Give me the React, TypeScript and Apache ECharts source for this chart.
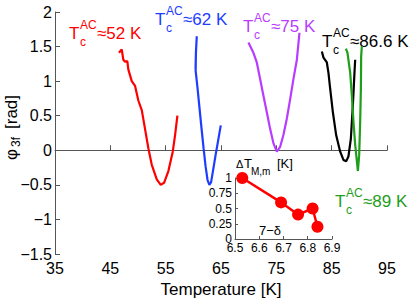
import React, { useEffect, useRef } from "react";
import * as echarts from "echarts";

// Main curves: temperature [K] and phase phi_3f [rad]
const redT = [46.57, 47.06, 47.35, 47.66, 48.07, 48.25, 48.87, 49.47, 50.06, 50.68, 51.27, 51.87, 52.49, 53.39, 54.11, 54.71, 55.49, 56.28, 56.7, 57.12];
const redPhi = [1.41, 1.46, 1.31, 1.28, 1.29, 1.17, 1.0, 0.93, 0.72, 0.58, 0.31, 0.03, -0.21, -0.42, -0.5, -0.47, -0.3, -0.02, 0.22, 0.5];

const blueT = [60.62, 60.48, 60.4, 60.47, 60.42, 60.77, 61.13, 61.49, 61.85, 62.21, 62.57, 62.9, 63.21, 63.57, 64.02, 64.48, 64.96];
const bluePhi = [1.65, 1.43, 1.18, 1.42, 1.15, 0.89, 0.6, 0.31, 0.03, -0.23, -0.43, -0.5, -0.46, -0.29, -0.07, 0.14, 0.36];

const purpleT = [69.96, 70.86, 71.47, 72.07, 72.67, 73.28, 73.88, 74.48, 75.09, 75.69, 76.28, 76.9, 77.5, 78.09, 78.71, 79.18];
const purplePhi = [1.56, 1.41, 1.27, 1.03, 0.79, 0.55, 0.31, 0.1, -0.02, 0.05, 0.22, 0.46, 0.74, 1.03, 1.31, 1.7];

const blackT = [83.23, 83.52, 84.13, 84.42, 84.73, 85.22, 85.81, 86.54, 87.13, 87.62, 88.03, 88.47, 88.83, 89.12, 89.25];
const blackPhi = [1.43, 1.34, 1.27, 1.12, 0.89, 0.55, 0.22, -0.02, -0.14, -0.16, -0.09, 0.17, 0.65, 1.12, 1.31];

const greenT = [87.57, 87.86, 88.35, 88.65, 88.94, 89.25, 89.56, 89.74, 89.97, 90.15, 90.28, 90.33, 90.46];
const greenPhi = [1.47, 1.41, 1.12, 0.79, 0.41, 0.08, -0.16, -0.3, -0.07, 0.41, 0.89, 1.36, 1.51];

// Inset: oxygen content 7-delta vs Delta T_M,m [K]
const insetDelta = [6.53, 6.69, 6.76, 6.82, 6.84];
const insetDT = [1.0, 0.6, 0.4, 0.5, 0.2];

// Tc labels
const tcValues = ["52", "62", "75", "86.6", "89"];

const RED = "#ff0000";
const BLUE = "#1f3dff";
const PURPLE = "#b83cff";
const BLACK = "#000000";
const GREEN = "#1e9e1a";

const FONT = '"Liberation Sans", Arial, Helvetica, sans-serif';

const zip = (a: number[], b: number[]) => a.map((v, i) => [v, b[i]]);
const minus = (v: number | string) => String(v).replace("-", "\u2212");

function tcLabel(x: number, y: number, value: string, color: string) {
  return {
    type: "group",
    children: [
      { type: "text", x, y, style: { text: "T", font: `17px ${FONT}`, fill: color, textAlign: "left", textVerticalAlign: "middle", align: "left", verticalAlign: "middle" } },
      { type: "text", x: x + 11, y: y - 8, style: { text: "AC", font: `12px ${FONT}`, fill: color, textAlign: "left", textVerticalAlign: "middle", align: "left", verticalAlign: "middle" } },
      { type: "text", x: x + 11, y: y + 9, style: { text: "c", font: `12px ${FONT}`, fill: color, textAlign: "left", textVerticalAlign: "middle", align: "left", verticalAlign: "middle" } },
      { type: "text", x: x + 28, y, style: { text: "\u2248" + value + " K", font: `17px ${FONT}`, fill: color, textAlign: "left", textVerticalAlign: "middle", align: "left", verticalAlign: "middle" } },
    ],
  };
}

function txt(x: number, y: number, text: string, size: number, color = "#000", align = "left") {
  return {
    type: "text",
    x,
    y,
    style: { text, font: `${size}px ${FONT}`, fill: color, textAlign: align, textVerticalAlign: "middle", align, verticalAlign: "middle" },
  };
}

export default function App() {
  const ref = useRef<HTMLDivElement>(null);
  useEffect(() => {
    if (!ref.current) return;
    const chart = echarts.init(ref.current, null, { renderer: "svg" });
    const axisCommon = {
      axisLine: { show: true, lineStyle: { color: "#555", width: 1 } },
      splitLine: { show: false },
    };
    const line = (name: string, t: number[], p: number[], color: string) => ({
      name,
      type: "line",
      xAxisIndex: 0,
      yAxisIndex: 0,
      data: zip(t, p),
      showSymbol: false,
      symbol: "none",
      lineStyle: { color, width: 2.2 },
      itemStyle: { color },
      clip: true,
    });
    chart.setOption({
      animation: false,
      textStyle: { fontFamily: FONT },
      grid: [
        { left: 55, top: 12, width: 332, height: 245 },
        { left: 235, top: 178, width: 97, height: 61 },
      ],
      xAxis: [
        {
          gridIndex: 0,
          type: "value",
          min: 35,
          max: 95,
          interval: 10,
          ...axisCommon,
          axisTick: { show: true, inside: true, length: 5, lineStyle: { color: "#555" } },
          axisLabel: { fontSize: 16, color: "#000", margin: 6, formatter: (v: number) => minus(v) },
          name: "Temperature [K]",
          nameLocation: "middle",
          nameGap: 27,
          nameTextStyle: { fontSize: 17, color: "#000" },
        },
        {
          gridIndex: 1,
          type: "value",
          min: 6.5,
          max: 6.9,
          interval: 0.1,
          ...axisCommon,
          axisTick: { show: true, inside: true, length: 3, lineStyle: { color: "#555" } },
          axisLabel: { fontSize: 12, color: "#000", margin: 3, formatter: (v: number) => v.toFixed(1) },
        },
      ],
      yAxis: [
        {
          gridIndex: 0,
          type: "value",
          min: -1.5,
          max: 2,
          interval: 0.5,
          ...axisCommon,
          axisTick: { show: true, inside: true, length: 5, lineStyle: { color: "#555" } },
          axisLabel: { fontSize: 16, color: "#000", margin: 3, formatter: (v: number) => minus(v) },
        },
        {
          gridIndex: 1,
          type: "value",
          min: 0,
          max: 1,
          interval: 0.25,
          ...axisCommon,
          axisTick: { show: true, inside: true, length: 3, lineStyle: { color: "#555" } },
          axisLabel: { fontSize: 12, color: "#000", margin: 3 },
        },
      ],
      series: [
        line("52 K", redT, redPhi, RED),
        line("62 K", blueT, bluePhi, BLUE),
        line("75 K", purpleT, purplePhi, PURPLE),
        line("86.6 K", blackT, blackPhi, BLACK),
        line("89 K", greenT, greenPhi, GREEN),
        {
          name: "Delta T",
          type: "line",
          xAxisIndex: 1,
          yAxisIndex: 1,
          data: zip(insetDelta, insetDT),
          symbol: "circle",
          symbolSize: 12,
          showSymbol: true,
          lineStyle: { color: RED, width: 2.5 },
          itemStyle: { color: RED },
          clip: false,
          z: 5,
        },
      ],
      graphic: [
        tcLabel(69, 33, tcValues[0], RED),
        tcLabel(155, 19, tcValues[1], BLUE),
        tcLabel(243, 26, tcValues[2], PURPLE),
        tcLabel(322, 41, tcValues[3], BLACK),
        tcLabel(335, 201, tcValues[4], GREEN),
        {
          type: "group",
          x: 11,
          y: 160,
          rotation: Math.PI / 2,
          children: [
            txt(0, 0, "\u03c6", 17),
            txt(13, 5, "3f", 12),
            txt(31, 0, "[rad]", 17),
          ],
        },
        txt(236, 164, "\u0394", 11),
        txt(244, 163, "T", 13),
        txt(251, 171, "M,m", 10),
        txt(277, 163, "[K]", 13),
        txt(270, 230, "7\u2212\u03b4", 13, "#000", "center"),
      ],
    });
    return () => chart.dispose();
  }, []);
  return <div ref={ref} style={{ position: "absolute", left: 0, top: 0, width: 415, height: 303 }} />;
}
